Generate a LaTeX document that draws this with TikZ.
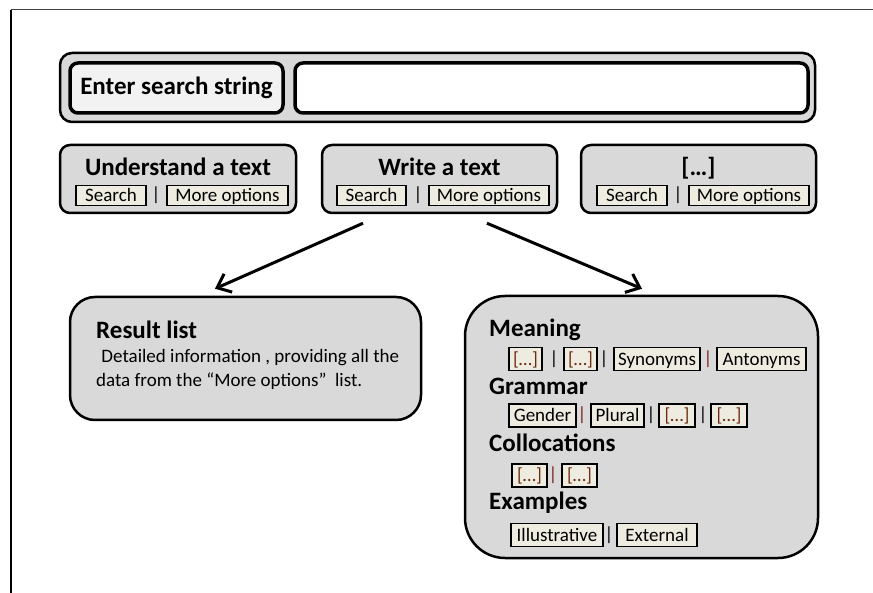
\documentclass[tikz,border=0pt]{standalone}
\usepackage{fontspec}
\setmainfont{Carlito}
\usetikzlibrary{arrows.meta,calc}
\definecolor{boxgray}{HTML}{D9D9D9}
\definecolor{btnfill}{HTML}{EEECE1}
\definecolor{labfill}{HTML}{F2F2F2}
\definecolor{sepred}{HTML}{7F2020}
\definecolor{dotsbrown}{HTML}{6E2A10}
\tikzset{
  panel/.style={draw, line width=2.5pt, fill=boxgray, rounded corners=10pt, inner sep=0pt},
  inbox/.style={draw, line width=3.5pt, rounded corners=8pt, inner sep=0pt},
  title/.style={font=\fontsize{25}{28}\selectfont\bfseries, inner sep=0pt},
  heading/.style={font=\fontsize{25}{28}\selectfont\bfseries, inner sep=0pt, anchor=west},
  btn/.style={draw, line width=1.2pt, fill=btnfill, inner sep=0pt, minimum height=20pt, text height=15pt, text depth=2pt, font=\fontsize{19}{21}\selectfont},
  mbtn/.style={btn, minimum height=23pt},
  sep/.style={inner sep=0pt, font=\fontsize{19}{21}\selectfont},
  body/.style={inner sep=0pt, anchor=west, font=\fontsize{19}{21}\selectfont},
  arr/.style={line width=3pt, -{Straight Barb[length=12pt,width=20pt]}}
}
\begin{document}
\begin{tikzpicture}[x=1pt,y=-1pt]
\useasboundingbox (0,0) rectangle (873,593);
% frame
\draw[line width=1pt, black!75] (873,10) -- (11,10);
\draw[line width=1.6pt] (11,10) -- (11,593);

% search bar
\node[panel, minimum width=755pt, minimum height=69pt, rounded corners=12pt] (bar) at (437.5,87.5) {};
\node[inbox, fill=labfill, minimum width=213pt, minimum height=50pt, font=\fontsize{25}{28}\selectfont\bfseries] (lab) at (176.5,88) {Enter search string};
\node[inbox, fill=white, minimum width=513pt, minimum height=50pt] (inp) at (551.5,88) {};

% three mode boxes
\node[panel, minimum width=236pt, minimum height=68pt] (b1) at (178,179) {};
\node[title] (t1) at (178,167) {Understand a text};
\node[btn, minimum width=70pt] (s1) at (111,195.5) {Search};
\node[sep] (p1) at (156,195.5) {|};
\node[btn, minimum width=121pt] (m1) at (227.5,195.5) {More options};

\node[panel, minimum width=235pt, minimum height=68pt] (b2) at (439.5,179) {};
\node[title] (t2) at (439.5,167) {Write a text};
\node[btn, minimum width=69pt] (s2) at (371.5,195.5) {Search};
\node[sep] (p2) at (418,195.5) {|};
\node[btn, minimum width=120pt] (m2) at (489,195.5) {More options};

\node[panel, minimum width=235pt, minimum height=68pt] (b3) at (698.5,179) {};
\node[title] (t3) at (698.5,168) {[…]};
\node[btn, minimum width=70pt] (s3) at (632,195.5) {Search};
\node[sep] (p3) at (678,195.5) {|};
\node[btn, minimum width=120pt] (m3) at (749,195.5) {More options};

% result list
\node[panel, rounded corners=25pt, minimum width=351pt, minimum height=123pt] (res) at (245.5,358.5) {};
\node[heading] (rt) at (96,330) {Result list};
\node[body] (r1) at (97,358) {\ Detailed information , providing all the};
\node[body] (r2) at (96,381) {data from the “More options”\ \ list.};

% meaning box
\node[panel, rounded corners=40pt, minimum width=353pt, minimum height=262pt] (mean) at (641.5,427) {};
\node[heading] (h1) at (489,330) {Meaning};
\node[mbtn, minimum width=33pt, text=dotsbrown] (a1) at (525.5,359) {[…]};
\node[sep] (q1) at (554,359) {|};
\node[mbtn, minimum width=33pt, text=dotsbrown] (a2) at (580.5,359) {[…]};
\node[sep] (q2) at (604,359) {|};
\node[mbtn, minimum width=86pt] (a3) at (657,359) {Synonyms};
\node[sep, text=sepred] (q3) at (708,359) {|};
\node[mbtn, minimum width=89pt] (a4) at (761.5,359) {Antonyms};

\node[heading] (h2) at (489,386) {Grammar};
\node[mbtn, minimum width=67pt] (g1) at (542.5,415.5) {Gender};
\node[sep, text=sepred] (w1) at (582,415.5) {|};
\node[mbtn, minimum width=53pt] (g2) at (617.5,415.5) {Plural};
\node[sep] (w2) at (651,415.5) {|};
\node[mbtn, minimum width=36pt, text=dotsbrown] (g3) at (677,415.5) {[…]};
\node[sep] (w3) at (703,415.5) {|};
\node[mbtn, minimum width=36pt, text=dotsbrown] (g4) at (729,415.5) {[…]};

\node[heading] (h3) at (489,443) {Collocations};
\node[mbtn, minimum width=35pt, text=dotsbrown] (c1) at (529.5,475.5) {[…]};
\node[sep, text=sepred] (v1) at (553,475.5) {|};
\node[mbtn, minimum width=35pt, text=dotsbrown] (c2) at (579.5,475.5) {[…]};

\node[heading] (h4) at (489,503) {Examples};
\node[mbtn, minimum width=92pt] (e1) at (557,535) {Illustrative};
\node[sep] (u1) at (609,535) {|};
\node[mbtn, minimum width=80pt] (e2) at (657,535) {External};

% arrows
\draw[arr] ([xshift=-76.5pt,yshift=-9pt]b2.south) -- ([xshift=-30.5pt,yshift=7pt]res.north);
\draw[arr] ([xshift=47.5pt,yshift=-9pt]b2.south) -- ([xshift=0.5pt,yshift=6pt]mean.north);
\end{tikzpicture}
\end{document}
